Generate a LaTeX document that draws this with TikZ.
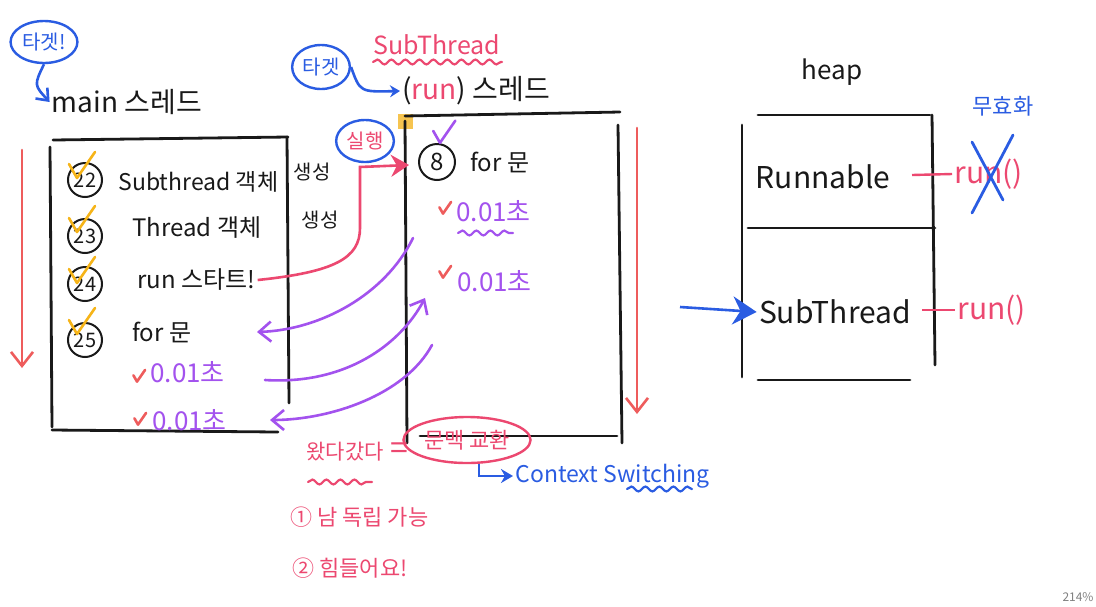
\documentclass[tikz,border=0pt]{standalone}
\usepackage{fontspec}
\setmainfont{Noto Sans CJK KR}
\usetikzlibrary{positioning,arrows.meta,decorations.pathmorphing,shapes.geometric}
\definecolor{ink}{RGB}{25,25,25}
\definecolor{pen}{RGB}{236,72,112}
\definecolor{coral}{RGB}{238,92,92}
\definecolor{vio}{RGB}{163,82,238}
\definecolor{blu}{RGB}{42,92,226}
\definecolor{ochk}{RGB}{246,180,24}
\definecolor{yel}{RGB}{246,196,80}

\begin{document}
\begin{tikzpicture}[x=0.5pt,y=-0.5pt,
  font=\fontsize{12}{14}\selectfont,
  txt/.style={inner sep=1pt,text=ink},
  pk/.style={inner sep=1pt,text=pen},
  vt/.style={inner sep=1pt,text=vio,font=\fontsize{13}{15}\selectfont},
  bt/.style={inner sep=1pt,text=blu},
  num/.style={draw=ink,circle,line width=1pt,minimum size=17pt,inner sep=0pt,
              text=ink,font=\fontsize{10}{10}\selectfont},
  wall/.style={ink,line width=1.4pt,line cap=round},
  down/.style={coral,line width=1.3pt,line cap=round,
               -{Straight Barb[length=7pt,width=11pt]}},
  swap/.style={vio,line width=1.3pt,line cap=round,
               -{Straight Barb[length=6pt,width=10pt]}},
  wavy/.style={decorate,decoration={snake,amplitude=1.2pt,segment length=7pt},
               line width=1.1pt,line cap=round},
  bubble/.style={ellipse,line width=1.2pt,inner sep=1pt,font=\fontsize{10}{12}\selectfont},
  tick/.pic={\draw[line width=1.3pt,line cap=round,line join=round,pic actions]
             (-8,-6) -- (0,8) -- (18,-18);}
]
\def\big{\fontsize{15}{17}\selectfont}
\def\hd{\fontsize{14}{16}\selectfont}
\useasboundingbox[fill=white] (0,0) rectangle (1096,606);

% main thread
\node[bubble,draw=blu,text=blu,minimum width=27pt,minimum height=21pt] (tgt1) at (44,42) {타겟!};
\node[txt,font=\hd] (mainlbl) at (127,102) {main 스레드};
\draw[blu,line width=1.3pt,-{Straight Barb[length=5pt,width=8pt]}]
  (tgt1.south) .. controls (34,85) .. (mainlbl.west);
\draw[wall] (53,140) -- (288,137);
\draw[wall] (50,147) -- (52,427);
\draw[wall] (287,137) -- (289,403);
\draw[wall] (52,430) -- (278,432);
\coordinate (mtop) at (22,150);
\coordinate (mbot) at (22,368);
\draw[down] (mtop) -- (mbot);

\node[num] (n22) at (85,180) {22};
\node[num] (n23) at (85,236) {23};
\node[num] (n24) at (85,284) {24};
\node[num] (n25) at (85,340) {25};
\foreach \y in {170,224,275,326} {\pic[draw=ochk] at (77,\y) {tick};}
\node[txt,anchor=west,font=\fontsize{11.5}{13}\selectfont] (t22) at (116,182) {Subthread 객체};
\node[txt,anchor=west] (t23) at (130,228) {Thread 객체};
\node[txt,anchor=west] (runst) at (135,280) {run 스타트!};
\node[txt,anchor=west] (for25) at (130,332) {for 문};
\node[txt,font=\fontsize{10}{12}\selectfont] (g22) at (312,172) {생성};
\node[txt,font=\fontsize{10}{12}\selectfont] (g23) at (320,220) {생성};
\node[vt,anchor=west] (m1) at (148,372) {0.01초};
\node[vt,anchor=west] (m2) at (150,420) {0.01초};
\pic[draw=coral,scale=0.45] at (137,378) {tick};
\pic[draw=coral,scale=0.45] at (138,421) {tick};

% sub thread
\node[bubble,draw=blu,text=blu,minimum width=26pt,minimum height=22pt] (tgt2) at (321,67) {타겟};
\node[pk,font=\fontsize{12.5}{14}\selectfont] (subname) at (437,45) {SubThread};
\draw[wavy,pen] (373,62) -- (502,62);
\node[txt,font=\hd,anchor=west] (subttl) at (400,91) {(\textcolor{pen}{run}) 스레드};
\draw[blu,line width=1.3pt,-{Stealth[length=5pt,width=6pt]}]
  (tgt2.east) .. controls (360,92) .. (subttl.west);
\fill[yel] (398,114) rectangle (413,129);
\draw[wall] (405,116) -- (620,112);
\draw[wall] (405,121) -- (407,443);
\draw[wall] (618,125) -- (622,443);
\draw[wall] (420,436) -- (617,436);
\coordinate (stop) at (637,128);
\coordinate (sbot) at (637,414);
\draw[down] (stop) -- (sbot);

\node[bubble,draw=blu,text=pen,minimum width=22pt,minimum height=21pt] (exec) at (365,141) {실행};
\coordinate (entry) at (409,165);
\draw[pen,line width=1.3pt,-{Stealth[length=9pt,width=11pt]}]
  (runst.east) .. controls (335,272) and (360,258) .. (360,228) -- (360,167) -- (entry);

\node[num,minimum size=18pt,font=\fontsize{12}{12}\selectfont] (n8) at (437,162) {8};
\pic[draw=vio,scale=0.85] at (440,136) {tick};
\node[txt,anchor=west] (for8) at (468,162) {for 문};
\node[vt,anchor=west] (s1) at (454,211) {0.01초};
\node[vt,anchor=west] (s2) at (455,281) {0.01초};
\pic[draw=coral,scale=0.45] at (443,210) {tick};
\pic[draw=coral,scale=0.45] at (443,274) {tick};
\draw[wavy,vio] (458,233) -- (513,233);

% switching between threads
\coordinate (a1) at (413,238);  \coordinate (b1) at (257,332);
\coordinate (a2) at (265,380);  \coordinate (b2) at (425,298);
\coordinate (a3) at (432,345);  \coordinate (b3) at (270,420);
\draw[swap] (a1) .. controls (385,295) and (320,330) .. (b1);
\draw[swap] (a2) .. controls (345,385) and (400,345) .. (b2);
\draw[swap] (a3) .. controls (405,395) and (330,420) .. (b3);

% notes
\node[pk,font=\fontsize{10.5}{12}\selectfont] (back) at (345,452) {왔다갔다};
\draw[wavy,pen] (308,482) -- (372,482);
\node[pk,font=\fontsize{16}{16}\selectfont] (eq) at (399,451) {=};
\node[bubble,draw=pen,text=pen,font=\fontsize{11}{13}\selectfont,
      minimum width=55pt,minimum height=23pt] (swapnote) at (467,440) {문맥 교환};
\node[bt,anchor=west,font=\fontsize{11.5}{13}\selectfont] (ctxsw) at (513,476) {Context Switching};
\draw[wavy,blu] (627,489) -- (692,489);
\draw[blu,line width=1.3pt,-{Stealth[length=6pt,width=7pt]}]
  ([xshift=6pt]swapnote.south) |- (ctxsw.west);
\node[pk,anchor=west,font=\fontsize{11}{13}\selectfont] (pro) at (288,517) {① 남 독립 가능};
\node[pk,anchor=west,font=\fontsize{11}{13}\selectfont] (con) at (290,568) {② 힘들어요!};

% heap
\node[txt,font=\fontsize{13}{15}\selectfont] (heapl) at (832,72) {heap};
\draw[wall] (758,115) -- (930,115);
\draw[wall] (742,125) -- (742,377);
\draw[wall] (932,115) -- (935,365);
\draw[wall] (748,228) -- (935,228);
\draw[wall] (758,380) -- (910,380);
\node[txt,font=\big] (rnb) at (823,177) {Runnable};
\node[txt,font=\big] (subobj) at (835,312) {SubThread};
\coordinate (h1) at (912,175);
\coordinate (h2) at (922,310);
\node[pk,anchor=west,font=\big] (rm1) at (952,174) {run()};
\node[pk,anchor=west,font=\big] (rm2) at (955,310) {run()};
\draw[pen,line width=1.2pt] (h1) -- (rm1.west);
\draw[pen,line width=1.2pt] (h2) -- (rm2.west);
\draw[blu,line width=1.4pt,line cap=round] (972,142) -- (1003,200);
\draw[blu,line width=1.4pt,line cap=round] (1013,135) -- (972,213);
\node[bt,font=\fontsize{11}{13}\selectfont] (void) at (1003,106) {무효화};
\coordinate (ptr) at (680,307);
\draw[blu,line width=1.3pt,-{Stealth[length=12pt,width=14pt]}] (ptr) -- (subobj.west);

\node[text=gray,font=\fontsize{6}{6}\selectfont] (zoomlvl) at (1078,597) {214\%};
\end{tikzpicture}
\end{document}
